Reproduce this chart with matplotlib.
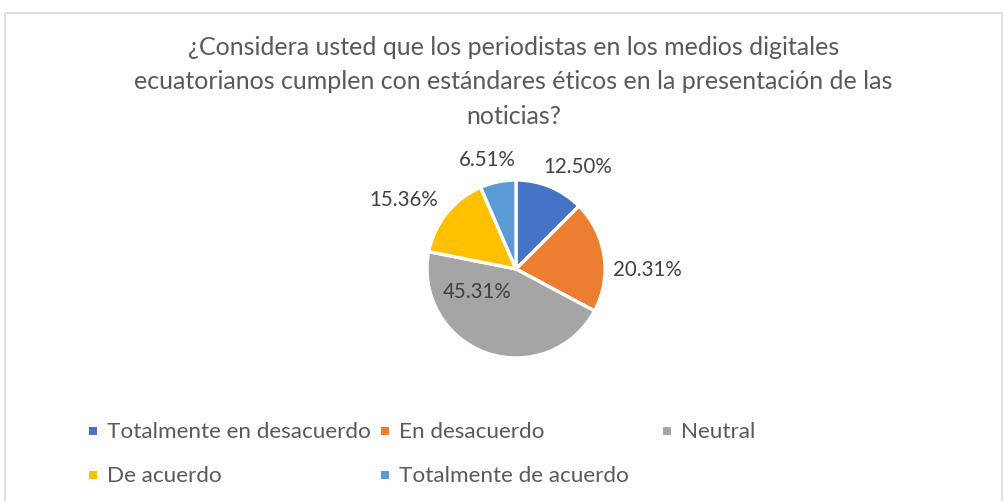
import numpy as np
import matplotlib.pyplot as plt
from matplotlib.patches import Rectangle

categorias = ["Totalmente en desacuerdo", "En desacuerdo", "Neutral",
              "De acuerdo", "Totalmente de acuerdo"]
porcentajes = [12.50, 20.31, 45.31, 15.36, 6.51]
colores = ["#4472C4", "#ED7D31", "#A5A5A5", "#FFC000", "#5B9BD5"]
titulo = ("¿Considera usted que los periodistas en los medios digitales\n"
          "ecuatorianos cumplen con estándares éticos en la presentación de las\n"
          "noticias?")

# label positions (pie radius units)
pos_etiquetas = [(0.69, 1.16), (1.48, 0.0), (-0.44, -0.25), (-1.26, 0.79), (-0.32, 1.24)]

plt.rcParams['font.family'] = ['Lato', 'DejaVu Sans']

fig = plt.figure(figsize=(10.05, 5.02), dpi=100)
fig.patch.set_facecolor("white")

# outer frame like the Excel chart area
fig.patches.append(Rectangle((5 / 1005, -0.01), 997 / 1005, 1 - 14 / 502 + 0.01,
                             transform=fig.transFigure, fill=False,
                             edgecolor="#D9D9D9", linewidth=1.2))

r_px = 89
cx, cy = 516, 270
w, h = 400, 300
ax = fig.add_axes([(cx - w / 2) / 1005, (502 - cy - h / 2) / 502, w / 1005, h / 502])
ax.pie(porcentajes, colors=colores, startangle=90, counterclock=False,
       wedgeprops=dict(edgecolor="white", linewidth=2.4))
ax.set_xlim(-w / 2 / r_px, w / 2 / r_px)
ax.set_ylim(-h / 2 / r_px, h / 2 / r_px)
ax.set_aspect("equal")
ax.axis("off")

for p, (x, y) in zip(porcentajes, pos_etiquetas):
    ax.text(x, y, f"{p:.2f}%", ha="center", va="center", fontsize=14.8, color="#404040")

fig.text(0.511, 1 - 36 / 502, titulo, ha="center", va="top", fontsize=18,
         color="#595959", linespacing=1.6)

# legend drawn manually, row-major like Excel
cols_x = [93, 385, 667]
rows_y = [432, 476]
for i, (cat, col) in enumerate(zip(categorias, colores)):
    fila, columna = divmod(i, 3)
    x = cols_x[columna]
    y = rows_y[fila]
    fig.patches.append(Rectangle(((x - 4) / 1005, (502 - y - 4) / 502), 8 / 1005, 8 / 502,
                                 transform=fig.transFigure, facecolor=col, edgecolor="none"))
    fig.text((x + 14) / 1005, 1 - y / 502, cat, ha="left", va="center",
             fontsize=16.2, color="#595959")

fig.savefig("out.png", dpi=100, facecolor="white")
